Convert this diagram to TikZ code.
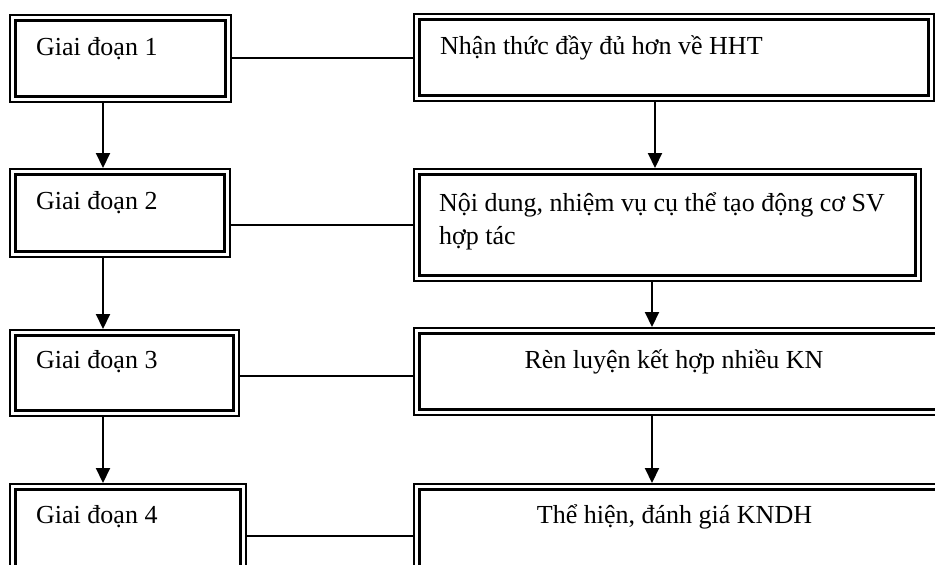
\documentclass[tikz,border=0pt]{standalone}
\usepackage{fontspec}
\setmainfont{Liberation Serif}
\usetikzlibrary{arrows.meta}
\tikzset{
  dbox/.style={draw, line width=1.6pt, anchor=north west, inner sep=0pt,
    path picture={\draw[line width=2.8pt]
      ([shift={(5.5pt,5.5pt)}]path picture bounding box.south west) rectangle
      ([shift={(-5.5pt,-5.5pt)}]path picture bounding box.north east);}},
  txt/.style={inner sep=0pt, font=\fontsize{26}{32}\selectfont},
  conn/.style={line width=1.9pt},
  arr/.style={line width=2.1pt, -{Triangle[length=15pt,width=14pt]}}
}
\begin{document}
\begin{tikzpicture}[x=1pt,y=-1pt]
\useasboundingbox (0,0) rectangle (935,565);
\clip (0,0) rectangle (935,565);
% boxes
\node[dbox, minimum width=221pt, minimum height=87pt] (b1l) at (9,14) {};
\node[dbox, minimum width=520pt, minimum height=87pt] (b1r) at (413,13) {};
\node[dbox, minimum width=220pt, minimum height=88pt] (b2l) at (9,168) {};
\node[dbox, minimum width=507pt, minimum height=112pt] (b2r) at (413,168) {};
\node[dbox, minimum width=229pt, minimum height=86pt] (b3l) at (9,329) {};
\node[dbox, minimum width=540pt, minimum height=87pt] (b3r) at (413,327) {};
\node[dbox, minimum width=236pt, minimum height=104pt] (b4l) at (9,483) {};
\node[dbox, minimum width=540pt, minimum height=104pt] (b4r) at (413,483) {};
% texts
\node[txt, anchor=base west] (t1l) at (36,55) {Giai đoạn 1};
\node[txt, anchor=base west] (t2l) at (36,209) {Giai đoạn 2};
\node[txt, anchor=base west] (t3l) at (36,368) {Giai đoạn 3};
\node[txt, anchor=base west] (t4l) at (36,523) {Giai đoạn 4};
\node[txt, anchor=base west] (t1r) at (440,54) {Nhận thức đầy đủ hơn về HHT};
\node[txt, anchor=base west] (t2r) at (439,211) {Nội dung, nhiệm vụ cụ thể tạo động cơ SV};
\node[txt, anchor=base west] (t2rb) at (439,244) {hợp tác};
\node[txt, anchor=base] (t3r) at (674,368) {Rèn luyện kết hợp nhiều KN};
\node[txt, anchor=base] (t4r) at (674.5,523) {Thể hiện, đánh giá KNDH};
% column positions
\coordinate (xl) at (103,0);
\coordinate (xr) at (655,0);
\coordinate (xs) at (652,0);
% horizontal connectors
\draw[conn] (b1l.east) -- (b1l.east -| b1r.west);
\draw[conn] (b2r.west -| b2l.east) -- (b2r.west);
\draw[conn] ([yshift=-3pt]b3l.east) -- ([yshift=-3pt]b3l.east -| b3r.west);
\draw[conn] (b4l.east) -- (b4l.east -| b4r.west);
% arrows
\draw[arr] (b1l.south -| xl) -- (b2l.north -| xl);
\draw[arr] (b2l.south -| xl) -- (b3l.north -| xl);
\draw[arr] (b3l.south -| xl) -- (b4l.north -| xl);
\draw[arr] (b1r.south -| xr) -- (b2r.north -| xr);
\draw[arr] (b2r.south -| xs) -- (b3r.north -| xs);
\draw[arr] (b3r.south -| xs) -- (b4r.north -| xs);
\end{tikzpicture}
\end{document}
